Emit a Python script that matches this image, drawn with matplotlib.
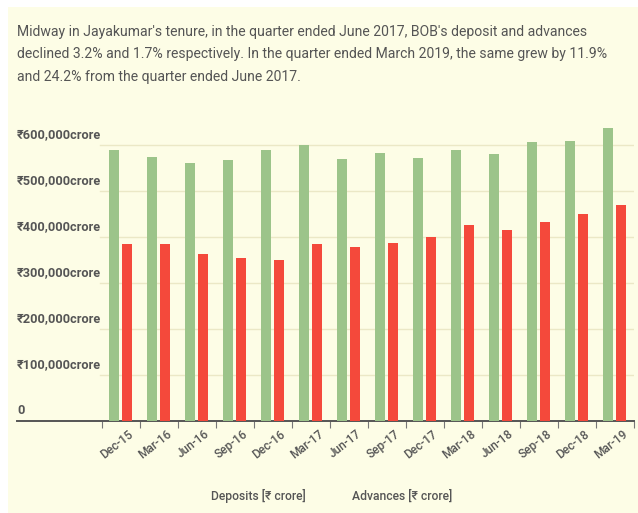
import matplotlib
matplotlib.use("Agg")
import matplotlib.pyplot as plt
import numpy as np
from matplotlib.patches import Rectangle

plt.rcParams['font.family'] = ['Roboto', 'DejaVu Sans']

quarters = ['Dec-15', 'Mar-16', 'Jun-16', 'Sep-16', 'Dec-16', 'Mar-17', 'Jun-17',
            'Sep-17', 'Dec-17', 'Mar-18', 'Jun-18', 'Sep-18', 'Dec-18', 'Mar-19']
deposits = [589000, 573000, 561000, 567000, 589000, 601000, 570000,
            582000, 572000, 589000, 580000, 606000, 609000, 638000]
advances = [385000, 384000, 363000, 355000, 350000, 384000, 378000,
            388000, 400000, 427000, 415000, 433000, 449000, 469000]
yticks = [0, 100000, 200000, 300000, 400000, 500000, 600000]
ylabels = ['0', '₹100,000crore', '₹200,000crore', '₹300,000crore',
           '₹400,000crore', '₹500,000crore', '₹600,000crore']

BG = '#fdfde6'
GREEN = '#9cc48a'
RED = '#f4493b'
TXT = '#555555'

W, H = 638, 513
fig = plt.figure(figsize=(W / 100, H / 100), dpi=100, facecolor='white')
fig.patches.append(Rectangle((8 / W, 0), 1 - 8 / W, 1 - 7 / H, transform=fig.transFigure,
                             facecolor=BG, edgecolor='none', zorder=-10))

# axes: x 17..634, y 421 (zero) .. 145 (600k)
x0, x1 = 17, 634
y_zero, y_600 = 421, 145
ymax_px = 110
ymax = 600000 * (y_zero - ymax_px) / (y_zero - y_600)
ax = fig.add_axes([x0 / W, 1 - y_zero / H, (x1 - x0) / W, (y_zero - ymax_px) / H])
ax.set_facecolor('none')

n = len(quarters)
band = 38.0
left_bands = (102 - x0) / band
ax.set_xlim(-left_bands, n)
ax.set_ylim(0, ymax)

xs = np.arange(n)
ax.bar(xs + 0.18, deposits, width=0.27, align='edge', color=GREEN, zorder=3)
ax.bar(xs + 0.52, advances, width=0.27, align='edge', color=RED, zorder=3)

# gridlines start right of the y labels
for v in yticks[1:]:
    ax.plot([-0.05, n], [v, v], color='#ebe8c6', lw=1, zorder=1)
for v, lab in zip(yticks, ylabels):
    ax.text(-left_bands, v + 8000, lab, ha='left', va='bottom', fontsize=9.2,
            fontweight='bold', color=TXT)

for s in ['top', 'right', 'left']:
    ax.spines[s].set_visible(False)
ax.spines['bottom'].set_color('#555555')
ax.spines['bottom'].set_linewidth(1.4)
ax.set_yticks([])
ax.set_xticks(np.arange(n + 1))
ax.set_xticklabels([])
ax.tick_params(axis='x', length=5, color='#777777', width=0.8)
for i, q in enumerate(quarters):
    ax.text(i + 0.68, -14000, q, rotation=38, ha='right', va='top', fontsize=8.6,
            color=TXT, rotation_mode='anchor', fontweight='medium')

fig.text(17 / W, 1 - 25 / H,
         "Midway in Jayakumar's tenure, in the quarter ended June 2017, BOB's deposit and advances\n"
         "declined 3.2% and 1.7% respectively. In the quarter ended March 2019, the same grew by 11.9%\n"
         "and 24.2% from the quarter ended June 2017.",
         ha='left', va='top', fontsize=10.1, color=TXT, linespacing=1.75)

fig.text(258 / W, 1 - 496 / H, 'Deposits [₹ crore]', ha='center', va='center',
         fontsize=8.7, color=TXT, fontweight='medium')
fig.text(402 / W, 1 - 496 / H, 'Advances [₹ crore]', ha='center', va='center',
         fontsize=8.7, color=TXT, fontweight='medium')

fig.savefig('out.png', dpi=100, facecolor='white')
